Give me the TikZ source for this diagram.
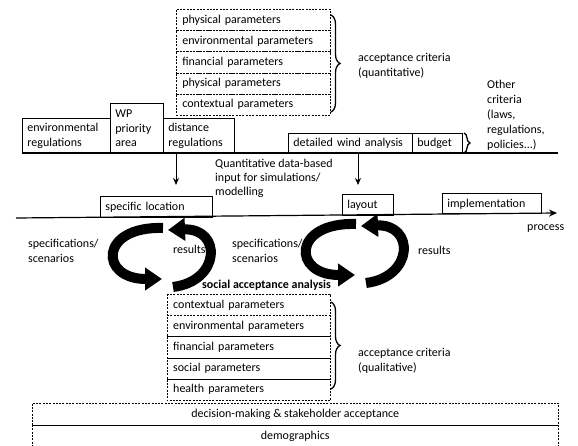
\documentclass[tikz,border=0pt]{standalone}
\usepackage{fontspec}
\setmainfont{Carlito}
\usetikzlibrary{arrows.meta,decorations.pathreplacing}
\begin{document}
\begin{tikzpicture}[x=1pt,y=-1pt,
  font=\fontsize{12pt}{14.5pt}\selectfont,
  dsh/.style={line width=0.6pt, dash pattern=on 2pt off 1.3pt},
  thin/.style={line width=0.7pt},
  tline/.style={line width=1.2pt},
  bx/.style={draw, line width=0.8pt, anchor=north west, inner xsep=5pt, inner ysep=0pt, align=left},
  qrow/.style={draw, dsh, anchor=north west, inner xsep=6pt, inner ysep=0pt,
    minimum height=21.2pt, text width=142pt, align=left},
  brow/.style={anchor=north west, inner xsep=6pt, inner ysep=0pt,
    minimum height=21.2pt, text width=151pt, align=left},
  lbl/.style={anchor=west, align=left, inner sep=0pt},
  brc/.style={decorate, decoration={brace, amplitude=9pt}, line width=1.3pt},
  loopar/.style={line width=10pt, -{Triangle[length=17pt,width=22pt]}},
  dnarrow/.style={line width=1pt, -{Stealth[length=7pt,width=6pt]}}
]
\useasboundingbox (0,0) rectangle (578,446);

% ---------- quantitative acceptance criteria ----------
\node[qrow] (q1) at (176,9)    {physical parameters};
\node[qrow] (q2) at (176,30.2) {environmental parameters};
\node[qrow] (q3) at (176,51.4) {financial parameters};
\node[qrow] (q4) at (176,72.6) {physical parameters};
\node[qrow] (q5) at (176,93.8) {contextual parameters};
\coordinate (bq1) at (331,15);
\coordinate (bq2) at (331,112);
\draw[brc] (bq1) -- (bq2);
\node[lbl] (accq) at (358,66) {acceptance criteria\\(quantitative)};

% ---------- upper time line ----------
\coordinate (t1s) at (22,153);
\coordinate (t1e) at (558,153);
\draw[tline] (t1s) -- (t1e);
\node[bx, text width=78pt, minimum height=35pt] (envreg) at (22,118) {environmental\\regulations};
\node[bx, text width=43pt, minimum height=50pt] (wp) at (110,103) {WP\\priority\\area};
\node[bx, text width=61pt, minimum height=35pt] (distreg) at (163,118) {distance\\regulations};
\node[bx, text width=114pt, minimum height=20pt] (wind) at (288,133) {detailed wind analysis};
\node[bx, text width=40pt, minimum height=20pt] (budget) at (412,133) {budget};
\coordinate (bo1) at (464,133);
\coordinate (bo2) at (464,153);
\draw[brc, decoration={brace, amplitude=6pt}] (bo1) -- (bo2);
\node[lbl, font=\fontsize{12pt}{15pt}\selectfont] (other) at (487,115)
  {Other\\criteria\\(laws,\\regulations,\\policies...)};

% ---------- arrows down ----------
\coordinate (a1s) at (176,153);
\coordinate (a1e) at (176,185);
\coordinate (a2s) at (358,153);
\coordinate (a2e) at (358,185);
\draw[dnarrow] (a1s) -- (a1e);
\draw[dnarrow] (a2s) -- (a2e);
\node[lbl, font=\fontsize{12pt}{14pt}\selectfont] (quant) at (215,178)
  {Quantitative data-based\\input for simulations/\\modelling};

% ---------- lower time line ----------
\coordinate (t2s) at (16,218);
\coordinate (t2e) at (557,213);
\node[bx, text width=102pt, minimum height=21pt, anchor=south west] (specloc) at (100,218) {specific location};
\node[bx, text width=41pt, minimum height=21pt, anchor=south west] (layout) at (342,216) {layout};
\node[bx, text width=89pt, minimum height=20pt, anchor=south west] (impl) at (442,214.3) {implementation};
\draw[tline, -{Stealth[length=8pt,width=7pt]}] (t2s) -- (t2e);
\node[lbl] (process) at (527,229) {process};

% ---------- loop labels ----------
\node[lbl] (spec1) at (28,251) {specifications/\\scenarios};
\node[lbl] (res1) at (173,249) {results};
\node[lbl] (spec2) at (232,251) {specifications/\\scenarios};
\node[lbl] (res2) at (418,250) {results};
\node[lbl, font=\fontsize{12pt}{14.5pt}\selectfont\bfseries] (saa) at (202,285) {social acceptance analysis};

% ---------- loops ----------
\draw[loopar] (163,228) .. controls (99,226) and (99,279) .. (162,279);
\draw[loopar] (173,287) .. controls (221,281) and (222,228) .. (168,230);
\begin{scope}[shift={(193,-4)}]
\draw[loopar] (163,228) .. controls (99,226) and (99,279) .. (162,279);
\draw[loopar] (173,287) .. controls (221,281) and (222,228) .. (168,230);
\end{scope}

% ---------- qualitative acceptance criteria ----------
\node[brow] (b1) at (167,294)   {contextual parameters};
\node[brow] (b2) at (167,315.2) {environmental parameters};
\node[brow] (b3) at (167,336.4) {financial parameters};
\node[brow] (b4) at (167,357.6) {social parameters};
\node[brow] (b5) at (167,378.8) {health parameters};
\draw[dsh] (b1.north west) rectangle (b5.south east);
\draw[dsh] (b1.south west) -- (b1.south east);
\draw[thin] (b2.south west) -- (b2.south east);
\draw[thin] (b3.south west) -- (b3.south east);
\draw[thin] (b4.south west) -- (b4.south east);
\coordinate (bb1) at (331,302);
\coordinate (bb2) at (331,389);
\draw[brc] (bb1) -- (bb2);
\node[lbl] (accl) at (358,361) {acceptance criteria\\(qualitative)};

% ---------- decision making / demographics ----------
\node[anchor=north west, minimum width=526pt, minimum height=22pt, inner sep=0pt] (dm) at (32,403)
  {decision-making \& stakeholder acceptance};
\node[anchor=north west, minimum width=526pt, minimum height=22pt, inner sep=0pt] (demo) at (32,425)
  {demographics};
\draw[dsh] (dm.south west) -- (dm.north west) -- (dm.north east) -- (dm.south east);
\draw[thin] (dm.south west) -- (dm.south east);
\draw[dsh] (demo.north west) -- ++(0,24);
\draw[dsh] (demo.north east) -- ++(0,24);
\end{tikzpicture}
\end{document}
